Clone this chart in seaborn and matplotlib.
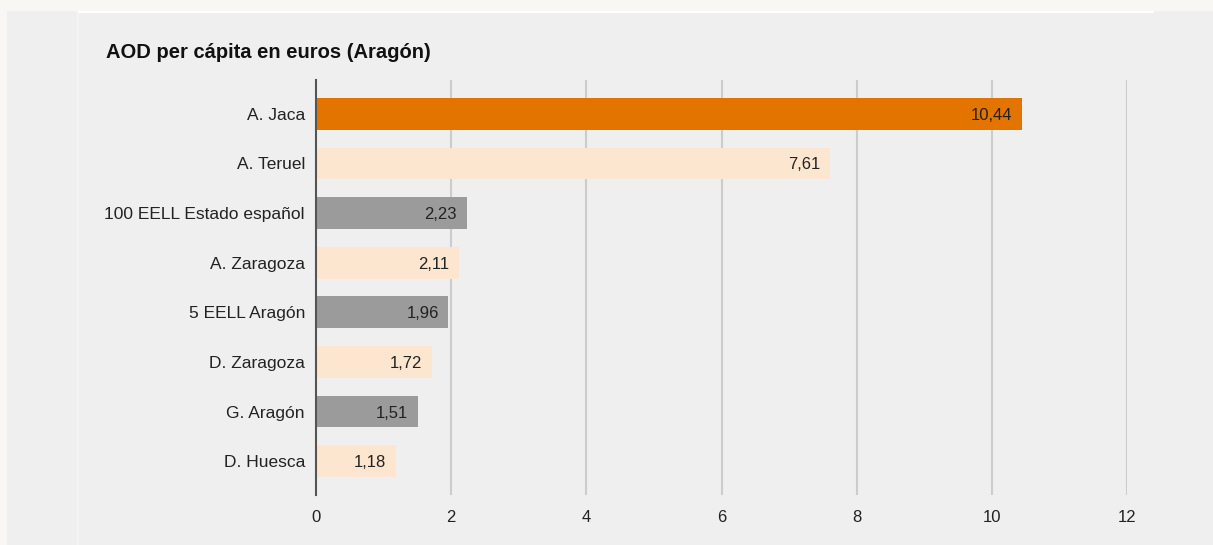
import matplotlib
matplotlib.use("Agg")
import matplotlib.pyplot as plt
import seaborn as sns
import pandas as pd
from matplotlib.patches import Rectangle

categories = ["A. Jaca", "A. Teruel", "100 EELL Estado español", "A. Zaragoza",
              "5 EELL Aragón", "D. Zaragoza", "G. Aragón", "D. Huesca"]
values = [10.44, 7.61, 2.23, 2.11, 1.96, 1.72, 1.51, 1.18]
bar_colors = ["#e37400", "#fde6cf", "#9b9b9b", "#fde6cf",
              "#9b9b9b", "#fde6cf", "#9b9b9b", "#fde6cf"]
x_ticks = [0, 2, 4, 6, 8, 10, 12]
title = "AOD per cápita en euros (Aragón)"

sns.set_theme(style="white")
plt.rcParams['font.family'] = ['Liberation Sans', 'DejaVu Sans']

df = pd.DataFrame({"cat": categories, "val": values})
palette = dict(zip(categories, bar_colors))

fig = plt.figure(figsize=(12.13, 5.45), dpi=100)
fig.patch.set_facecolor("#efefef")
# top cream strip and faint white frame
fig.add_artist(Rectangle((0, 1 - 11 / 545), 1, 11 / 545, transform=fig.transFigure,
                         facecolor="#f8f7f3", edgecolor="none", zorder=0))
fig.add_artist(Rectangle((0, 0), 7 / 1213, 1, transform=fig.transFigure,
                         facecolor="#f8f7f3", edgecolor="none", zorder=0))
fig.add_artist(plt.Line2D([78 / 1213, 1153 / 1213], [1 - 11.5 / 545, 1 - 11.5 / 545],
                          transform=fig.transFigure, color="#ffffff", lw=1.5))
fig.add_artist(plt.Line2D([78 / 1213, 78 / 1213], [0, 1 - 11.5 / 545],
                          transform=fig.transFigure, color="#f6f6f6", lw=1.2))

ax = fig.add_axes([316 / 1213, 1 - 495 / 545, (1127 - 316) / 1213, (495 - 80) / 545])
ax.set_facecolor("#efefef")

sns.barplot(data=df, x="val", y="cat", hue="cat", palette=palette, legend=False,
            orient="h", width=0.64, ax=ax, saturation=1, zorder=3, linewidth=0)

ax.set_xlim(0, 12)
ax.set_ylim(7.68, -0.68)
ax.set_xticks(x_ticks)
ax.set_xticklabels([str(t) for t in x_ticks], fontsize=12, color="#222222")
ax.tick_params(axis="y", labelsize=12.5, labelcolor="#222222", length=0, pad=8)
ax.tick_params(axis="x", length=0, pad=11)
ax.set_xlabel("")
ax.set_ylabel("")
for t in x_ticks[1:]:
    ax.axvline(t, color="#cccccc", lw=1.5, zorder=1)
for s in ["top", "right", "bottom"]:
    ax.spines[s].set_visible(False)
ax.spines["left"].set_color("#555555")
ax.spines["left"].set_linewidth(1.5)
ax.spines["left"].set_zorder(5)

for i, v in enumerate(values):
    ax.annotate(f"{v:.2f}".replace(".", ","), xy=(v, i), xytext=(-7, 0),
                textcoords="offset points", ha="right", va="center_baseline",
                fontsize=12, color="#222222", zorder=6)

fig.text(106 / 1213, 1 - 53 / 545, title, fontsize=14.5, fontweight="bold",
         color="#111111", ha="left", va="center")

fig.savefig("out.png", dpi=100, facecolor=fig.get_facecolor())
